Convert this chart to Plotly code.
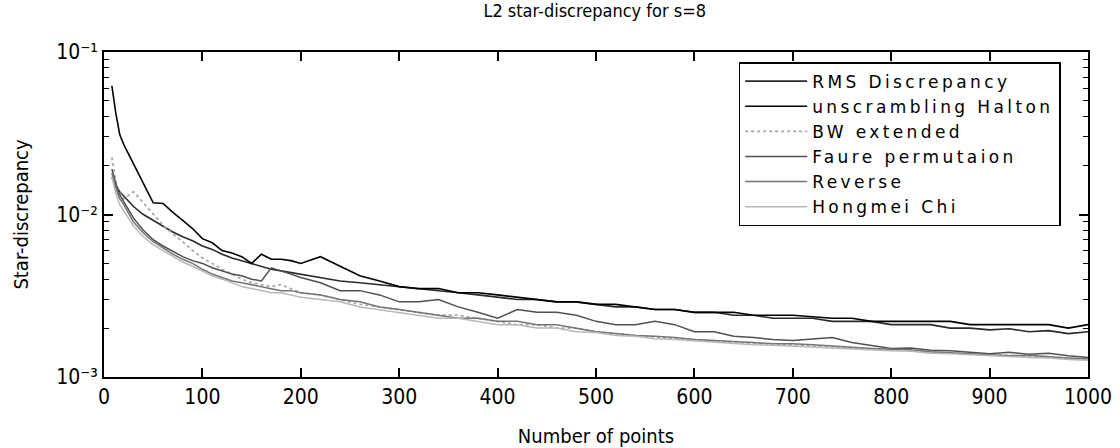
import plotly.graph_objects as go

# Number of points (shared x grid)
n_points = [8, 12, 16, 20, 30, 40, 50, 60, 70, 80, 90, 100, 110, 120, 130, 140, 150, 160, 170, 180, 190, 200,
            220, 240, 260, 280, 300, 320, 340, 360, 380, 400, 420, 440, 460, 480, 500,
            520, 540, 560, 580, 600, 620, 640, 660, 680, 700, 720, 740, 760, 780, 800,
            820, 840, 860, 880, 900, 920, 940, 960, 980, 1000]

rms_discrepancy = [0.0170, 0.0150, 0.0138, 0.0130, 0.0112, 0.0100, 0.0092, 0.0084, 0.0078, 0.0073, 0.0069, 0.0064,
                   0.0061, 0.0057, 0.0054, 0.0052, 0.0050, 0.0048, 0.0046, 0.0045, 0.0044, 0.0043,
                   0.0041, 0.0039, 0.0038, 0.0037, 0.0036, 0.0035, 0.0034, 0.0033, 0.0032, 0.0031, 0.0030, 0.0030,
                   0.0029, 0.0029, 0.0028, 0.0027, 0.0027, 0.0026, 0.0026, 0.0025, 0.0025, 0.0024, 0.0024, 0.0023,
                   0.0023, 0.0023, 0.0022, 0.0022, 0.0022, 0.0021, 0.0021, 0.0021, 0.0020, 0.0020, 0.00195,
                   0.00198, 0.0019, 0.00193, 0.00185, 0.0019]

unscrambling_halton = [0.062, 0.042, 0.031, 0.027, 0.0205, 0.0155, 0.0118, 0.0117, 0.0103, 0.0092, 0.0082, 0.0071,
                       0.0067, 0.0060, 0.0058, 0.0055, 0.0050, 0.0057, 0.0053, 0.0053, 0.0052, 0.0050,
                       0.0055, 0.0048, 0.0042, 0.0039, 0.0036, 0.0035, 0.0035, 0.0033, 0.0033, 0.0032, 0.0031, 0.0030,
                       0.0029, 0.0029, 0.0028, 0.0028, 0.0027, 0.0026, 0.0026, 0.0025, 0.0025, 0.0025, 0.0024, 0.0024,
                       0.0024, 0.00235, 0.0023, 0.0023, 0.0022, 0.0022, 0.0022, 0.0022, 0.0022, 0.0021, 0.0021,
                       0.0021, 0.0021, 0.0021, 0.0020, 0.0021]

bw_extended = [0.0225, 0.0160, 0.0135, 0.0125, 0.0138, 0.0118, 0.0100, 0.0086, 0.0076, 0.0068, 0.0060, 0.0054,
               0.0050, 0.0046, 0.0043, 0.0040, 0.0038, 0.0037, 0.0036, 0.0037, 0.0035, 0.0033,
               0.0032, 0.0030, 0.0028, 0.0027, 0.0026, 0.0025, 0.0024, 0.0024, 0.0023, 0.0022, 0.0021, 0.0021,
               0.0020, 0.0020, 0.0019, 0.00185, 0.0018, 0.00175, 0.00172, 0.0017, 0.00167, 0.00163, 0.0016, 0.0016,
               0.00157, 0.00155, 0.00152, 0.0015, 0.00149, 0.00147, 0.00146, 0.00142, 0.0014, 0.00139, 0.00137,
               0.00136, 0.00134, 0.00132, 0.0013, 0.00128]

faure_permutation = [0.0190, 0.0155, 0.0132, 0.0120, 0.0095, 0.0080, 0.0070, 0.0064, 0.0059, 0.0055, 0.0052, 0.0050,
                     0.0047, 0.0045, 0.0043, 0.0042, 0.0040, 0.0039, 0.0047, 0.0045, 0.0043, 0.0041,
                     0.0038, 0.0034, 0.0034, 0.0032, 0.0029, 0.0029, 0.0030, 0.0027, 0.0025, 0.0023, 0.0026, 0.0025,
                     0.0025, 0.0024, 0.0022, 0.0021, 0.0021, 0.0022, 0.0021, 0.0019, 0.0019, 0.00178, 0.00175, 0.0017,
                     0.00168, 0.00172, 0.00175, 0.00163, 0.00157, 0.0015, 0.00151, 0.00146, 0.00145, 0.00142, 0.00139,
                     0.00142, 0.00138, 0.0014, 0.00135, 0.00132]

reverse = [0.0180, 0.0145, 0.0125, 0.0115, 0.0090, 0.0077, 0.0068, 0.0062, 0.0057, 0.0053, 0.0050, 0.0046,
           0.0043, 0.0041, 0.0039, 0.0038, 0.0037, 0.0036, 0.0035, 0.0034, 0.0034, 0.0033,
           0.0032, 0.0030, 0.0029, 0.0027, 0.0026, 0.0025, 0.0024, 0.0023, 0.0023, 0.0022, 0.0022, 0.0021,
           0.0021, 0.0020, 0.0019, 0.00185, 0.0018, 0.00178, 0.00175, 0.0017, 0.00168, 0.00165, 0.00163, 0.0016,
           0.0016, 0.00158, 0.00155, 0.00153, 0.0015, 0.00148, 0.00147, 0.00143, 0.00141, 0.0014, 0.00138,
           0.00135, 0.00136, 0.00133, 0.00131, 0.00129]

hongmei_chi = [0.0170, 0.0135, 0.0115, 0.0105, 0.0085, 0.0073, 0.0065, 0.0060, 0.0055, 0.0051, 0.0048, 0.0045,
               0.0042, 0.0040, 0.0038, 0.0036, 0.0035, 0.0034, 0.0033, 0.0033, 0.0032, 0.0031,
               0.0030, 0.0029, 0.0027, 0.0026, 0.0025, 0.0024, 0.0023, 0.0023, 0.0022, 0.0021, 0.0021, 0.0020,
               0.0020, 0.0019, 0.00188, 0.0018, 0.00178, 0.00172, 0.0017, 0.00167, 0.00165, 0.00162, 0.00158, 0.00157,
               0.00155, 0.00152, 0.0015, 0.00148, 0.00147, 0.00145, 0.00144, 0.0014, 0.00139, 0.00137, 0.00136,
               0.00133, 0.00132, 0.00131, 0.00128, 0.00127]

x_tick_vals = [0, 100, 200, 300, 400, 500, 600, 700, 800, 900, 1000]
y_tick_vals = [0.001, 0.01, 0.1]
y_tick_text = ["10\u207b\u00b3", "10\u207b\u00b2", "10\u207b\u00b9"]
y_minor_vals = [m * 10.0 ** e for e in (-3, -2) for m in range(2, 10)]

series_names = ["RMS Discrepancy", "unscrambling Halton", "BW extended",
                "Faure permutaion", "Reverse", "Hongmei Chi"]
series_values = [rms_discrepancy, unscrambling_halton, bw_extended,
                 faure_permutation, reverse, hongmei_chi]
series_styles = [("#2a2a2a", "solid", 1.6), ("#000000", "solid", 1.6), ("#a8a8a8", "dot", 1.8),
                 ("#505050", "solid", 1.5), ("#747474", "solid", 1.5), ("#b8b8b8", "solid", 1.5)]

fig = go.Figure()
for name, vals, (color, dash, w) in zip(series_names, series_values, series_styles):
    fig.add_trace(go.Scatter(
        x=n_points, y=vals, mode="lines",
        name='<span style="letter-spacing:3.4px">' + name + '</span>',
        line=dict(color=color, width=w, dash=dash)))

narrow = "Liberation Sans Narrow, DejaVu Sans Condensed, Roboto Condensed, Roboto, sans-serif"

fig.update_layout(
    width=1120, height=448,
    margin=dict(l=104, r=32, t=52, b=71),
    paper_bgcolor="white", plot_bgcolor="white",
    title=dict(text="L2 star-discrepancy for s=8", x=0.531, xanchor="center", y=0.99, yanchor="top",
               font=dict(family=narrow, size=18, color="black")),
    showlegend=True,
    legend=dict(x=0.645, y=0.969, xanchor="left", yanchor="top",
                bgcolor="white", bordercolor="black", borderwidth=1.5,
                font=dict(family="DejaVu Sans, sans-serif", size=17, color="black"),
                itemwidth=62, tracegroupgap=0),
    font=dict(family=narrow, color="black"),
)

fig.update_xaxes(
    range=[0, 1000], tickmode="array", tickvals=x_tick_vals, automargin=False,
    ticks="inside", ticklen=9, tickwidth=1.5, tickcolor="black",
    showline=True, linecolor="black", linewidth=2, mirror="ticks",
    showgrid=False, zeroline=False,
    tickfont=dict(family=narrow, size=21, color="black"),
    title=dict(text="Number of points", font=dict(family=narrow, size=20, color="black"), standoff=28),
)

fig.update_yaxes(
    type="log", range=[-3, -1], tickmode="array", tickvals=y_tick_vals, ticktext=y_tick_text, automargin=False,
    ticks="inside", ticklen=9, tickwidth=1.5, tickcolor="black",
    minor=dict(tickmode="array", tickvals=y_minor_vals, ticks="inside", ticklen=5,
               tickwidth=1.2, tickcolor="black", showgrid=False),
    showline=True, linecolor="black", linewidth=2, mirror="ticks",
    showgrid=False, zeroline=False,
    tickfont=dict(family=narrow, size=21, color="black"),
    title=dict(text="Star-discrepancy", font=dict(family=narrow, size=20, color="black"), standoff=22),
)

fig.write_html("out.html")
